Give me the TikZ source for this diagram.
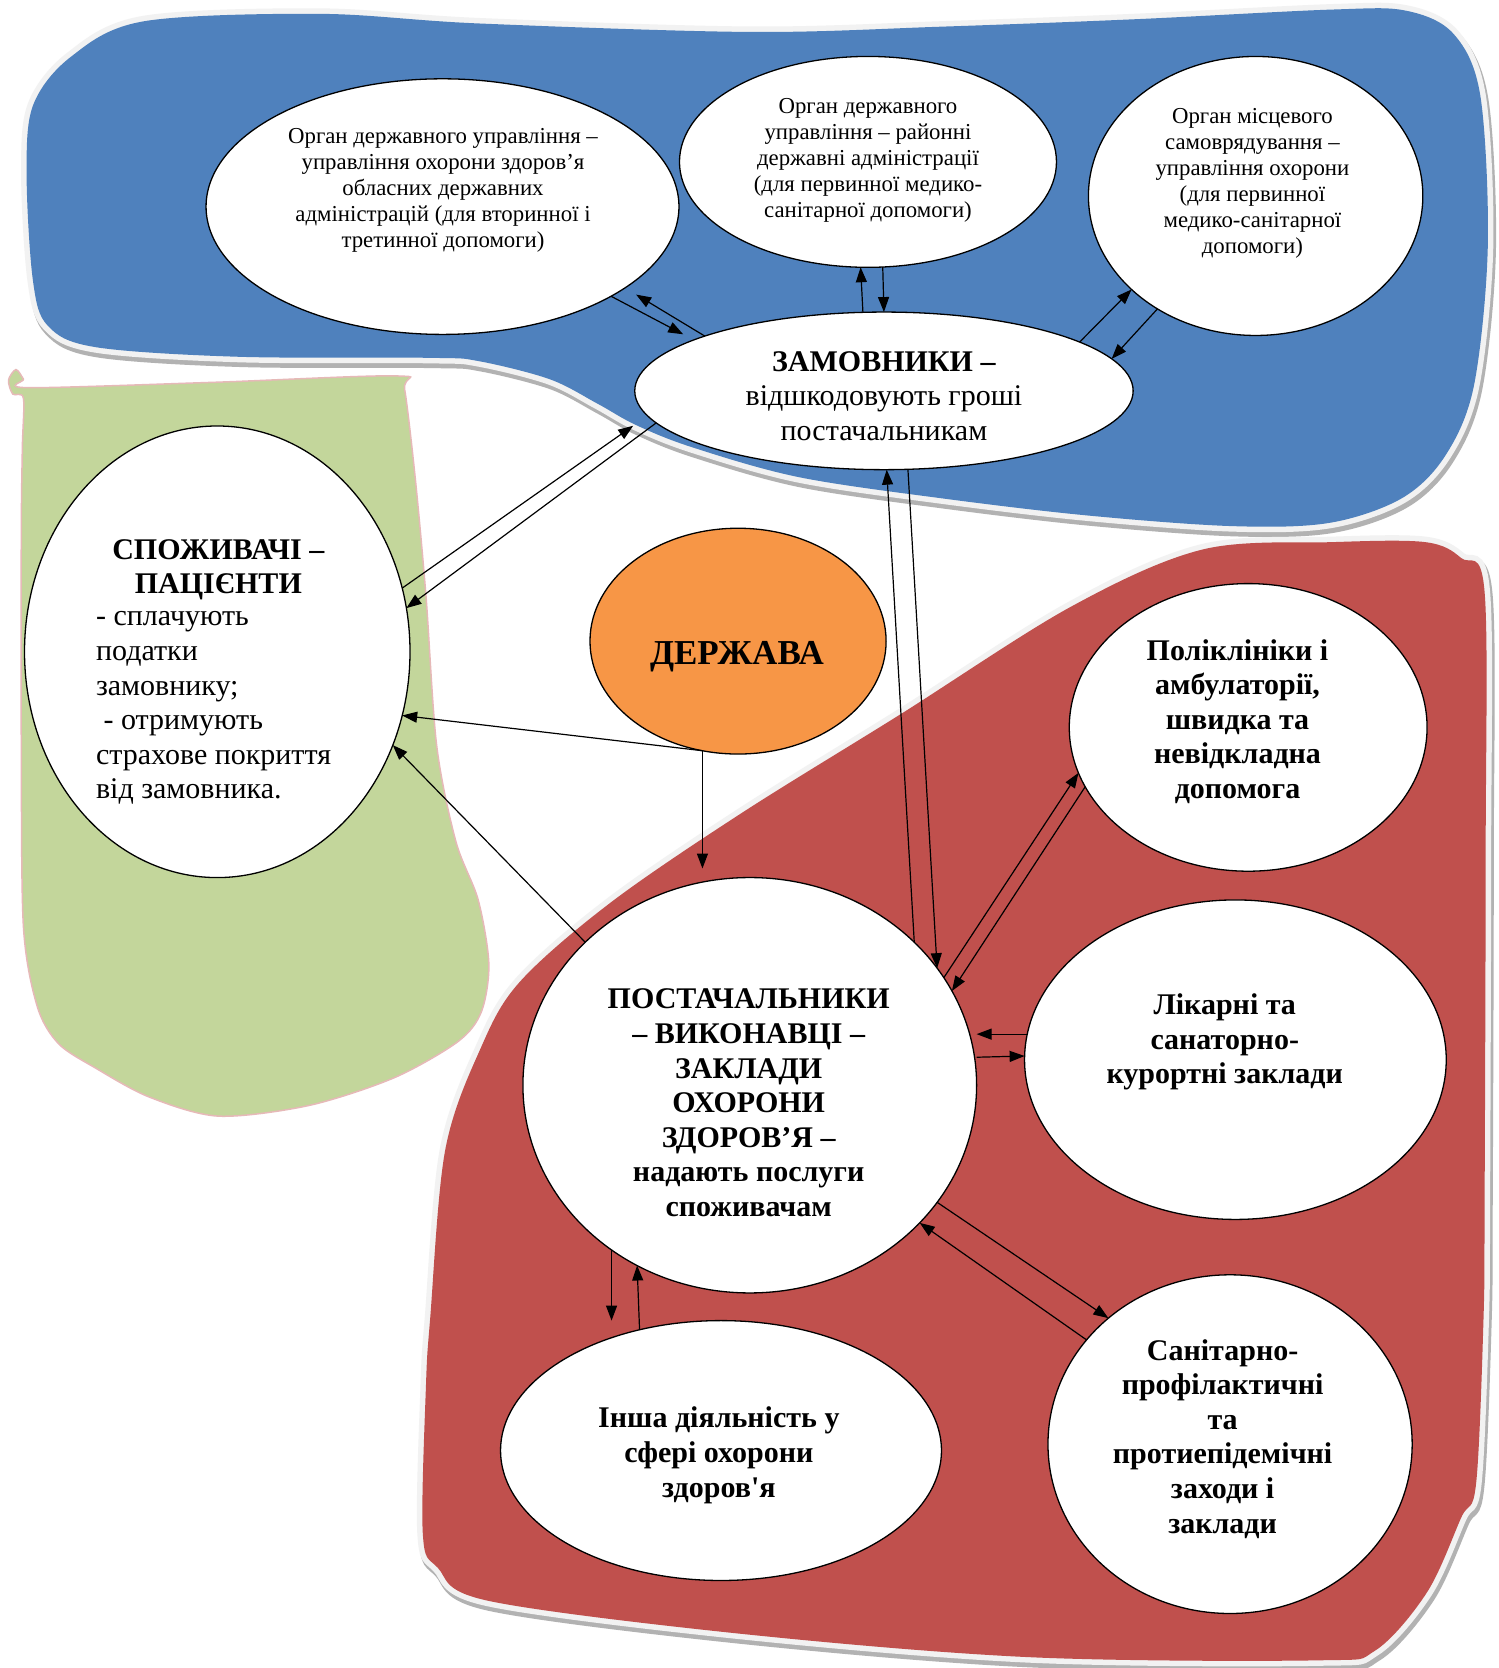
\documentclass[tikz,border=0pt]{standalone}
\usepackage{fontspec}
\setmainfont{Liberation Serif}
\usetikzlibrary{shapes.geometric,arrows.meta,calc}
\definecolor{blobblue}{HTML}{4F81BD}
\definecolor{blobred}{HTML}{C0504D}
\definecolor{blobgreen}{HTML}{C3D69B}
\definecolor{blobpink}{HTML}{E6B9B8}
\definecolor{stateorange}{HTML}{F79646}
\newcommand\straightapos{{\addfontfeatures{Ligatures=TeXOff}'}}
\newcommand\bluepathdef{plot[smooth cycle,tension=0.55] coordinates {(135,20) (300,13) (449,22) (704,30) (885,25) (1067,18) (1250,9) (1320,10) (1365,32) (1390,90) (1397,231) (1384,362) (1357,428) (1316,468) (1248,491) (1157,494) (1021,484) (885,468) (750,448) (650,420) (597,399) (561,379) (516,356) (449,339) (404,336) (224,335) (90,326) (45,306) (31,264) (25,165) (31,99) (67,53)}}
\newcommand\redpathdef{plot[smooth cycle,tension=0.55] coordinates {(1252,509) (1338,509) (1372,524) (1394,556) (1395,800) (1394,1127) (1393,1237) (1386,1393) (1372,1425) (1340,1495) (1291,1550) (1237,1559) (966,1556) (695,1534) (458,1503) (411,1472) (397,1440) (400,1300) (404,1237) (418,1080) (451,985) (488,922) (574,847) (697,763) (845,671) (1005,570) (1129,516)}}
\newcommand\greenpathdef{plot[smooth cycle,tension=0.5] coordinates {(22,374) (12,370) (8,357) (15,347) (22,356) (26,364) (200,359) (373,353) (380,366) (390,450) (400,560) (410,700) (428,790) (449,845) (459,905) (452,950) (430,978) (370,1012) (290,1038) (205,1048) (140,1030) (90,1003) (55,980) (35,945) (22,870) (20,700) (20,500) (21,420)}}
\begin{document}
\begin{tikzpicture}[x=1.065pt,y=-1.065pt,
  oval/.style={ellipse,draw=black,line width=1.3pt,fill=white,inner sep=0pt,outer sep=0pt},
  smalltxt/.style={align=center,inner sep=0pt,font=\fontsize{22.8}{26}\selectfont},
  bigtxt/.style={align=center,inner sep=0pt,font=\fontsize{30}{34.6}\selectfont},
  boldtxt/.style={align=center,inner sep=0pt,font=\fontsize{30}{34.6}\selectfont\bfseries},
  arr/.style={-{Triangle[length=15pt,width=11pt]},line width=1.2pt},
  blobshadow/.style={draw=gray!60,line width=12pt},
  blobedge/.style={draw=black!5,line width=11pt}]
\useasboundingbox[fill=white] (0,0) rectangle (1407.5,1566.2);
% blue region
\begin{scope}[shift={(2,4)}]
\draw[blobshadow] \bluepathdef;
\end{scope}
\draw[blobedge] \bluepathdef;
\fill[blobblue] \bluepathdef;
% green region
\filldraw[fill=blobgreen,draw=blobpink,line width=1.5pt] \greenpathdef;
% red region
\begin{scope}[shift={(2,4)}]
\draw[blobshadow] \redpathdef;
\end{scope}
\draw[blobedge] \redpathdef;
\fill[blobred] \redpathdef;
% ellipses
\node[oval,minimum width=472.9pt,minimum height=255.6pt] (E1) at (415.5,194) {};
\node[oval,minimum width=377.0pt,minimum height=210.9pt] (E2) at (815,152) {};
\node[oval,minimum width=334.4pt,minimum height=279.0pt] (E3) at (1179,184) {};
\node[oval,minimum width=498.4pt,minimum height=157.6pt] (Z) at (830,367) {};
\node[oval,minimum width=385.5pt,minimum height=451.6pt] (S) at (204,612) {};
\node[oval,fill=stateorange,minimum width=296.1pt,minimum height=225.8pt] (D) at (693,602) {};
\node[oval,minimum width=453.7pt,minimum height=415.4pt] (P) at (704,1019) {};
\node[oval,minimum width=357.8pt,minimum height=287.6pt] (L1) at (1172,683) {};
\node[oval,minimum width=421.7pt,minimum height=319.5pt] (L2) at (1160,995) {};
\node[oval,minimum width=440.9pt,minimum height=259.9pt] (I) at (677,1362) {};
\node[oval,minimum width=364.2pt,minimum height=338.7pt] (SP) at (1155,1356) {};
% texts
\node[smalltxt] (tE1) at (416,179) {Орган державного управління –\\управління охорони здоров’я\\обласних державних\\адміністрацій (для вторинної і\\третинної допомоги)};
\node[smalltxt] (tE2) at (815,151) {Орган державного\\управління – районні\\державні адміністрації\\(для первинної медико-\\санітарної допомоги)};
\node[smalltxt] (tE3) at (1176,172.5) {Орган місцевого\\самоврядування –\\управління охорони\\(для первинної\\медико-санітарної\\допомоги)};
\node[bigtxt] (tZ) at (830,372) {\textbf{ЗАМОВНИКИ –}\\відшкодовують гроші\\постачальникам};
\node[boldtxt] (tS1) at (205,535) {СПОЖИВАЧІ –\\ПАЦІЄНТИ};
\node[bigtxt,align=left,anchor=west] (tS2) at (90,665) {- сплачують\\податки\\замовнику;\\\ - отримують\\страхове покриття\\від замовника.};
\node[align=center,inner sep=0pt,font=\fontsize{35}{40}\selectfont\bfseries] (tD) at (692,617) {ДЕРЖАВА};
\node[boldtxt] (tP) at (703,1035.5) {ПОСТАЧАЛЬНИКИ\\– ВИКОНАВЦІ –\\ЗАКЛАДИ\\ОХОРОНИ\\ЗДОРОВ’Я –\\надають послуги\\споживачам};
\node[boldtxt] (tL1) at (1162,677.5) {Поліклініки і\\амбулаторії,\\швидка та\\невідкладна\\допомога};
\node[boldtxt] (tL2) at (1150,978.5) {Лікарні та\\санаторно-\\курортні заклади};
\node[boldtxt] (tI) at (675,1366.5) {Інша діяльність у\\сфері охорони\\здоров\straightapos я};
\node[boldtxt] (tSP) at (1148,1351) {Санітарно-\\профілактичні\\та\\протиепідемічні\\заходи і\\заклади};
% connectors
\draw[arr,shorten >=12pt] (E1.-28.05) -- (Z.165.7);
\draw[arr,shorten >=13pt] (Z.163) -- (E1.-24.6);
\draw[arr] (Z.105.8) -- (E2.266.57);
\draw[arr] (E2.278.62) -- (Z.90);
\draw[arr] (Z.14) -- (E3.217.8);
\draw[arr] (E3.229.8) -- (Z.8.2);
\draw[arr,shorten >=17.5pt] (S.19.6) -- (Z.186.1);
\draw[arr] (Z.188.7) -- (S.13.9);
\draw[arr] (D.252.8) -- (S.-19.2);
\draw[arr,shorten >=9pt] (D.252.8) -- (D.252.8 |- P.north);
\draw[arr] (P.139.7) -- (S.-28.6);
\draw[arr] (P.41.3) -- (Z.-88.2);
\draw[arr] (Z.-73.3) -- (P.32.9);
\draw[arr] (P.29.9) -- (L1.195);
\draw[arr] (L1.200.8) -- (P.25.2);
\draw[arr] (L2.173.3) -- (L2.173.3 -| P.east);
\draw[arr] ([yshift=28pt]P.east) -- (L2.179.3);
\draw[arr] (P.-32.1) -- (SP.134.7);
\draw[arr] (SP.144.05) -- (P.-39.6);
\draw[arr] (P.230.9) -- (P.230.9 |- I.north);
\draw[arr] (I.124.8) -- (P.238.1);
\end{tikzpicture}
\end{document}
